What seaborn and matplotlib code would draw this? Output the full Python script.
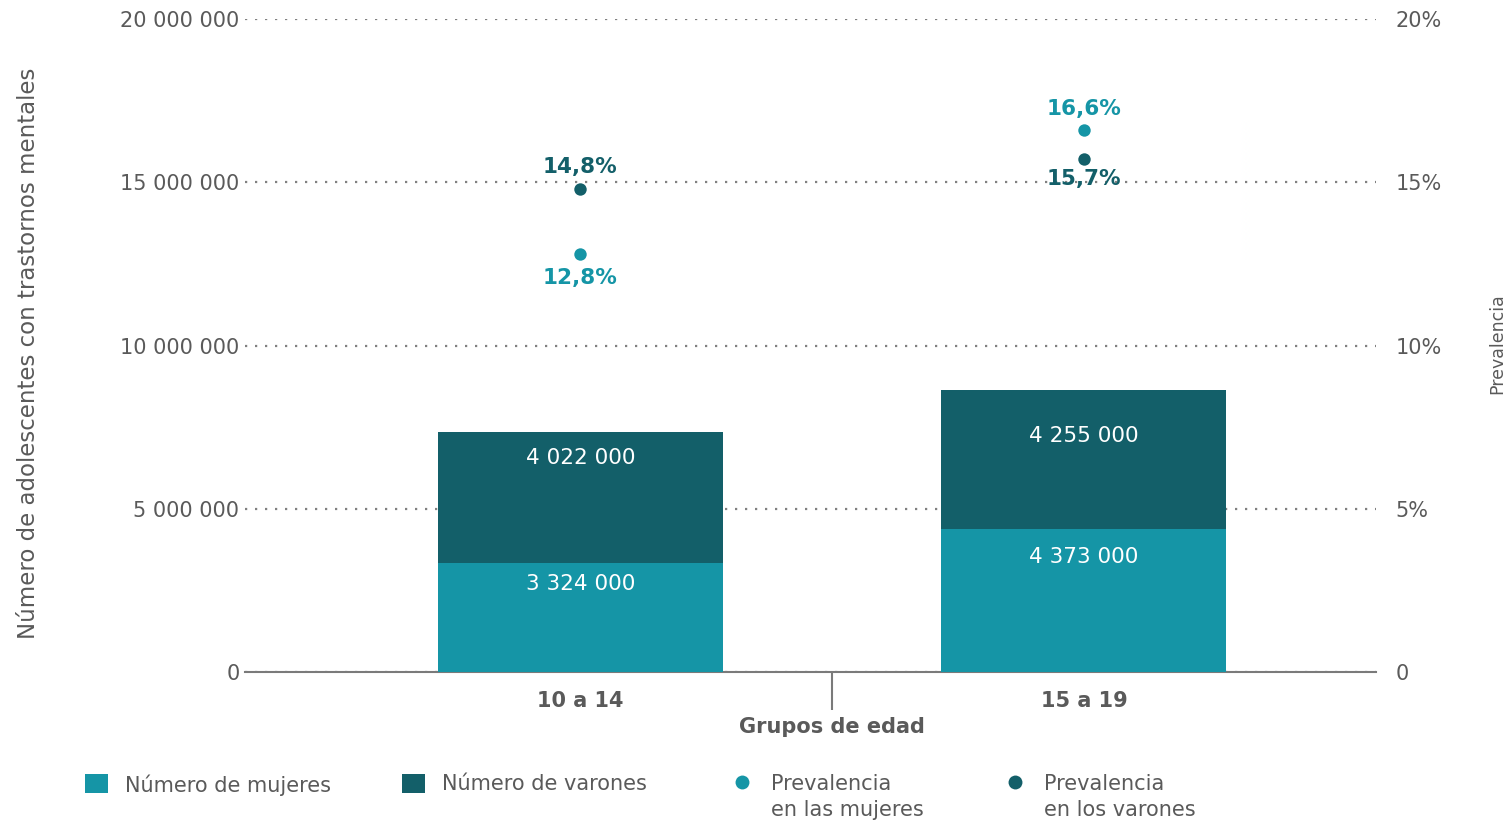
import numpy as np
import pandas as pd
import matplotlib
matplotlib.use("Agg")
import matplotlib.pyplot as plt
import seaborn as sns
from matplotlib.patches import Patch
from matplotlib.lines import Line2D
from matplotlib.ticker import FuncFormatter, FixedLocator

# ---- data ----
groups = ["10 a 14", "15 a 19"]
mujeres = [3324000, 4373000]
varones = [4022000, 4255000]
prev_mujeres = [12.8, 16.6]
prev_varones = [14.8, 15.7]
left_ticks = [0, 5000000, 10000000, 15000000, 20000000]
right_ticks = [0, 5, 10, 15, 20]

# ---- style ----
LIGHT = "#1595a6"
DARK = "#135f69"
GRAY = "#5a5a5a"
LINE = "#7a7a7a"
FS = 15

sns.set_style("white")
plt.rcParams['font.family'] = ['DejaVu Sans']

W, H = 1510, 824
fig = plt.figure(figsize=(W / 100, H / 100), dpi=100)
ax_l, ax_r, ax_t, ax_b = 245, 1376, 19, 672
ax = fig.add_axes([ax_l / W, 1 - ax_b / H, (ax_r - ax_l) / W, (ax_b - ax_t) / H])

df = pd.DataFrame({"grupo": groups, "mujeres": mujeres, "varones": varones})
df["total"] = df["mujeres"] + df["varones"]

bw = 0.566
sns.barplot(data=df, x="grupo", y="total", color=DARK, width=bw, saturation=1,
            errorbar=None, ax=ax, zorder=3, linewidth=0)
sns.barplot(data=df, x="grupo", y="mujeres", color=LIGHT, width=bw, saturation=1,
            errorbar=None, ax=ax, zorder=3, linewidth=0)

ax.set_xlim(-0.666, 1.580)
ax.set_ylim(0, 20000000)
ax.set_axisbelow(True)

# value labels inside bars (offsets in px below segment top)
px = 0.72
var_off = [26, 46]
muj_off = [21, 28]
for i in range(len(groups)):
    tot = mujeres[i] + varones[i]
    ax.annotate(f"{varones[i]:,}".replace(",", " "), xy=(i, tot),
                xytext=(0, -var_off[i] * px), textcoords="offset points",
                ha="center", va="center", color="white", fontsize=FS + 0.5, zorder=6)
    ax.annotate(f"{mujeres[i]:,}".replace(",", " "), xy=(i, mujeres[i]),
                xytext=(0, -muj_off[i] * px), textcoords="offset points",
                ha="center", va="center", color="white", fontsize=FS + 0.5, zorder=6)

# axes styling
for s in ["top", "left", "right"]:
    ax.spines[s].set_visible(False)
ax.spines["bottom"].set_color(LINE)
ax.spines["bottom"].set_linewidth(1.5)
ax.spines["bottom"].set_zorder(2)

ax.yaxis.set_major_locator(FixedLocator(left_ticks))
ax.yaxis.set_major_formatter(FuncFormatter(lambda v, p: f"{int(v):,}".replace(",", " ")))
ax.tick_params(axis="y", length=0, pad=4, labelsize=FS, labelcolor=GRAY, left=False)
ax.yaxis.grid(True, linestyle=(0, (1, 3.5)), color="#808080", linewidth=1.6)
ax.xaxis.grid(False)

ax.tick_params(axis="x", which="major", length=0, pad=14, labelsize=FS, labelcolor=GRAY)
for t in ax.get_xticklabels():
    t.set_fontweight("bold")
ax.xaxis.set_minor_locator(FixedLocator([0.5]))
ax.tick_params(axis="x", which="minor", bottom=True, length=27, width=1.5,
               color=LINE, direction="out")

ax.set_xlabel("Grupos de edad", fontsize=FS, color=GRAY, fontweight="bold")
ax.xaxis.label.set(ha="center", va="center")
ax.xaxis.set_label_coords((832 - ax_l) / (ax_r - ax_l), (ax_b - 727) / (ax_b - ax_t))
ax.set_ylabel("Número de adolescentes con trastornos mentales", fontsize=16.5, color=GRAY)
ax.yaxis.label.set(ha="center", va="center", rotation_mode="anchor")
ax.yaxis.set_label_coords((28 - ax_l) / (ax_r - ax_l), (ax_b - 353) / (ax_b - ax_t))

# secondary axis: prevalence
ax2 = ax.twinx()
ax2.set_ylim(0, 20)
sns.scatterplot(x=np.arange(len(groups)), y=prev_varones, color=DARK, s=80,
                linewidth=0, ax=ax2, zorder=5, legend=False)
sns.scatterplot(x=np.arange(len(groups)), y=prev_mujeres, color=LIGHT, s=80,
                linewidth=0, ax=ax2, zorder=5, legend=False)
ax2.set_xlim(-0.666, 1.580)

pv_off = [22, -20]
pm_off = [-24, 21]
for i in range(len(groups)):
    ax2.annotate(f"{prev_varones[i]:.1f}%".replace(".", ","), xy=(i, prev_varones[i]),
                 xytext=(0, pv_off[i] * px), textcoords="offset points",
                 ha="center", va="center", color=DARK, fontsize=FS + 0.5, fontweight="bold")
    ax2.annotate(f"{prev_mujeres[i]:.1f}%".replace(".", ","), xy=(i, prev_mujeres[i]),
                 xytext=(0, pm_off[i] * px), textcoords="offset points",
                 ha="center", va="center", color=LIGHT, fontsize=FS + 0.5, fontweight="bold")

for s in ax2.spines.values():
    s.set_visible(False)
ax2.yaxis.set_major_locator(FixedLocator(right_ticks))
ax2.yaxis.set_major_formatter(FuncFormatter(lambda v, p: "0" if v == 0 else f"{int(v)}%"))
ax2.tick_params(axis="y", length=0, pad=14, labelsize=FS, labelcolor=GRAY, right=False)
ax2.set_ylabel("Prevalencia", fontsize=12.5, color=GRAY)
ax2.yaxis.label.set(ha="center", va="center", rotation=90, rotation_mode="anchor")
ax2.yaxis.set_label_coords((1497 - ax_l) / (ax_r - ax_l), (ax_b - 344) / (ax_b - ax_t))

# legend: four separate entries
entries = [
    (Patch(facecolor=LIGHT, edgecolor="none"), "Número de mujeres", 85),
    (Patch(facecolor=DARK, edgecolor="none"), "Número de varones", 402),
    (Line2D([], [], marker="o", linestyle="none", markersize=10, color=LIGHT,
            markeredgewidth=0), "Prevalencia\nen las mujeres", 731),
    (Line2D([], [], marker="o", linestyle="none", markersize=10, color=DARK,
            markeredgewidth=0), "Prevalencia\nen los varones", 1004),
]
for h, lab, xp in entries:
    leg = fig.legend(handles=[h], labels=[lab], loc="upper left",
                     bbox_to_anchor=(xp / W, 1 - 774 / H), frameon=False,
                     borderpad=0, borderaxespad=0, handlelength=1.1, handleheight=1.0,
                     handletextpad=0.8, fontsize=FS, labelcolor=GRAY)
    for t in leg.get_texts():
        t.set_linespacing(1.35)
    try:
        for col in leg._legend_handle_box.get_children():
            for item in col.get_children():
                item.align = "top"
    except Exception:
        pass

fig.savefig("out.png", dpi=100)
